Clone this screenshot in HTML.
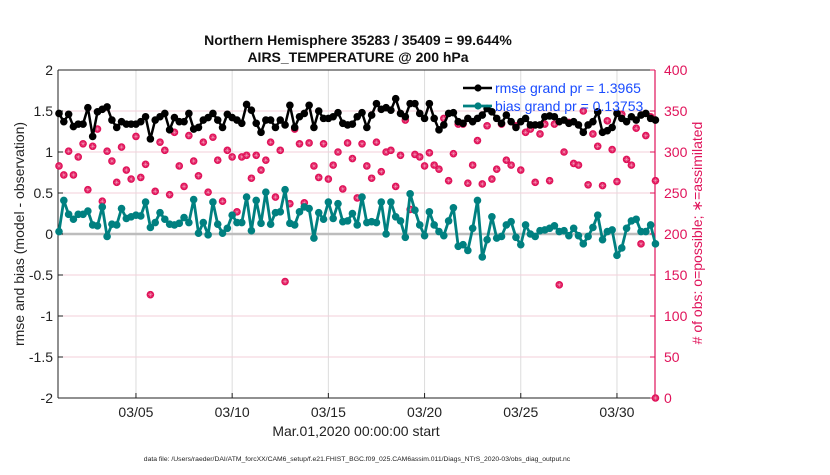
<!DOCTYPE html>
<html><head><meta charset="utf-8"><style>
body{margin:0;background:#fff;width:830px;height:470px;overflow:hidden}
text{font-family:"Liberation Sans",Arial,sans-serif}
</style></head><body>
<svg id="chart" width="830" height="470" xmlns="http://www.w3.org/2000/svg"></svg>
<script>
const biasValues=[0.03,0.41,0.24,0.18,0.24,0.24,0.28,0.11,0.10,0.33,-0.03,0.12,0.11,0.31,0.19,0.21,0.23,0.22,0.39,0.08,0.14,0.26,0.18,0.12,0.11,0.13,0.20,0.14,0.42,0.01,0.14,-0.01,0.39,0.12,0.01,0.07,0.23,0.14,0.14,0.45,0.04,0.41,0.13,
0.51,0.12,0.26,0.27,0.54,0.13,0.11,0.27,0.33,0.31,-0.05,0.26,0.18,0.39,0.19,0.37,0.15,0.16,0.25,0.11,0.45,0.14,0.15,0.14,0.39,0.00,0.39,0.21,0.16,-0.04,0.49,0.29,0.11,-0.02,0.27,0.11,0.03,-0.02,0.16,0.32,-0.15,
-0.13,-0.20,0.07,0.41,-0.28,-0.07,0.21,-0.05,-0.03,0.11,0.15,-0.04,-0.13,0.11,0.00,-0.03,0.04,0.05,0.07,0.10,0.03,0.04,-0.02,0.07,-0.02,-0.12,-0.03,0.08,0.23,-0.07,0.03,0.05,-0.26,-0.17,0.07,0.16,0.18,0.03,0.03,0.11,-0.12];
const rmseValues=[1.47,1.37,1.46,1.31,1.34,1.34,1.54,1.19,1.49,1.52,1.55,1.39,1.30,1.37,1.34,1.34,1.34,1.37,1.43,1.16,1.39,1.43,1.47,1.27,1.42,1.37,1.37,1.47,1.28,1.30,1.39,1.42,1.47,1.39,1.30,1.46,1.42,1.39,1.35,1.58,1.51,1.35,1.24,
1.39,1.39,1.30,1.39,1.33,1.57,1.30,1.43,1.47,1.57,1.30,1.50,1.41,1.41,1.43,1.48,1.35,1.33,1.34,1.43,1.48,1.30,1.45,1.59,1.52,1.54,1.51,1.65,1.47,1.43,1.59,1.59,1.47,1.41,1.59,1.41,1.27,1.33,1.47,1.48,1.37,
1.35,1.41,1.37,1.41,1.45,1.53,1.49,1.41,1.35,1.45,1.37,1.30,1.37,1.41,1.33,1.33,1.33,1.43,1.44,1.43,1.37,1.39,1.35,1.37,1.33,1.24,1.33,1.37,1.49,1.24,1.26,1.30,1.47,1.41,1.37,1.43,1.39,1.45,1.47,1.41,1.39];
const obsValues=[283,272,301,272,294,310,254,307,328,240,301,289,263,306,278,267,319,269,285,126,252,312,302,248,324,283,258,320,289,271,312,251,318,290,240,302,294,227,294,296,268,296,278,
290,312,245,302,142,237,328,310,238,311,283,269,310,267,284,300,255,311,292,244,310,283,268,312,276,300,302,258,296,339,230,297,294,283,299,284,279,341,265,298,334,
334,262,284,314,261,332,267,279,334,290,284,332,278,324,328,263,322,334,265,334,138,300,336,286,284,350,260,322,307,259,338,303,264,346,291,284,329,188,320,343,265];
const extraObsDays=[32];
const extraObsValues=[0];
const dayStart=1, dayStep=0.25;
const xTickDays=[5,10,15,20,25,30];
const xTickLabels=["03/05","03/10","03/15","03/20","03/25","03/30"];
const yLeftTicks=[-2,-1.5,-1,-0.5,0,0.5,1,1.5,2];
const yRightTicks=[0,50,100,150,200,250,300,350,400];

const L=58,R=655,T=70,B=398;
const xS=d=>59+(d-1)*19.24;
const yL=v=>T+(2-v)*(B-T)/4;
const yR=v=>B-v*(B-T)/400;
const svg=document.getElementById('chart');
const NS='http://www.w3.org/2000/svg';
function mk(tag,attrs,parent){const e=document.createElementNS(NS,tag);for(const k in attrs)e.setAttribute(k,attrs[k]);(parent||svg).appendChild(e);return e;}
function txt(s,attrs,parent){const e=mk('text',attrs,parent);e.textContent=s;return e;}
const PINK='#e0135a';

const grid=mk('g',{});


xTickDays.forEach(d=>{const l=mk('line',{x1:xS(d),x2:xS(d),y1:T,y2:B,stroke:'#dcdcdc','stroke-width':1},grid);

});
yLeftTicks.forEach(v=>{if(v===0||v===2||v===-2)return;const l=mk('line',{x1:L,x2:R,y1:yL(v),y2:yL(v),stroke:'#f3cfda','stroke-width':1},grid);

});
const zl=mk('line',{x1:L,x2:R,y1:yL(0),y2:yL(0),stroke:'#bdbdbd','stroke-width':2.5});



const ax=mk('g',{});


mk('line',{x1:L,x2:R,y1:T,y2:T,stroke:'#222','stroke-width':1},ax);
mk('line',{x1:L,x2:R,y1:B,y2:B,stroke:'#222','stroke-width':1},ax);
mk('line',{x1:L,x2:L,y1:T,y2:B,stroke:'#222','stroke-width':1},ax);
mk('line',{x1:R,x2:R,y1:T,y2:B,stroke:PINK,'stroke-width':1.2},ax);
yLeftTicks.forEach(v=>{mk('line',{x1:L,x2:L+5,y1:yL(v),y2:yL(v),stroke:'#222'},ax);
const t=txt(String(v),{x:53,y:yL(v)+5,'text-anchor':'end','font-size':14,fill:'#222'},ax);

});
yRightTicks.forEach(v=>{mk('line',{x1:R-5,x2:R,y1:yR(v),y2:yR(v),stroke:PINK},ax);
const t=txt(String(v),{x:664,y:yR(v)+5,'font-size':14,fill:PINK},ax);

});
xTickDays.forEach((d,i)=>{mk('line',{x1:xS(d),x2:xS(d),y1:B-5,y2:B,stroke:'#222'},ax);
const t=txt(xTickLabels[i],{x:xS(d),y:417,'text-anchor':'middle','font-size':14,fill:'#222'},ax);

});

const og=mk('g',{});


function obsMark(x,y){const g=mk('g',{},og);


mk('circle',{cx:x,cy:y,r:3.8,fill:PINK},g);
const p=`M${x-2.4} ${y}H${x+2.4}M${x} ${y-2.4}V${y+2.4}M${x-1.7} ${y-1.7}L${x+1.7} ${y+1.7}M${x-1.7} ${y+1.7}L${x+1.7} ${y-1.7}`;
mk('path',{d:p,stroke:'#f7b8cc','stroke-width':0.4},g);}
obsValues.forEach((v,i)=>obsMark(xS(dayStart+i*dayStep),yR(v)));
extraObsDays.forEach((d,i)=>obsMark(xS(d),yR(extraObsValues[i])));

function series(vals,color,name,w){const g=mk('g',{});


const pts=vals.map((v,i)=>xS(dayStart+i*dayStep).toFixed(1)+','+yL(v).toFixed(1)).join(' ');
mk('polyline',{points:pts,fill:'none',stroke:color,'stroke-width':w,'stroke-linejoin':'round'},g);
vals.forEach((v,i)=>{const c=mk('circle',{cx:xS(dayStart+i*dayStep),cy:yL(v),r:3.8,fill:color},g);

});}
series(rmseValues,'#000','rmse-series',2.5);
series(biasValues,'#008080','bias-series',2.8);
</script>
<svg width="830" height="470" style="position:absolute;left:0;top:0" xmlns="http://www.w3.org/2000/svg">
<g>
<g><line x1="463" x2="492" y1="88" y2="88" stroke="#000" stroke-width="2.5"/><circle cx="478" cy="88" r="3.6" fill="#000"/>
<text x="495" y="93" font-size="14" fill="#1a4cff" font-family="Liberation Sans, sans-serif">rmse grand pr = 1.3965</text></g>
<g><line x1="463" x2="492" y1="106" y2="106" stroke="#008080" stroke-width="2.8"/><circle cx="478" cy="106" r="3.6" fill="#008080"/>
<text x="495" y="111" font-size="14" fill="#1a4cff" font-family="Liberation Sans, sans-serif">bias grand pr = 0.13753</text></g>
</g>
<text x="358" y="45" text-anchor="middle" font-size="14" font-weight="bold" fill="#111" font-family="Liberation Sans, sans-serif">Northern Hemisphere 35283 / 35409 = 99.644%</text>
<text x="358" y="62" text-anchor="middle" font-size="14" font-weight="bold" fill="#111" font-family="Liberation Sans, sans-serif">AIRS_TEMPERATURE @ 200 hPa</text>
<text transform="translate(24,234) rotate(-90)" text-anchor="middle" font-size="14" fill="#222" font-family="Liberation Sans, sans-serif">rmse and bias (model - observation)</text>
<text transform="translate(702,233) rotate(-90)" text-anchor="middle" font-size="14" fill="#e0135a" font-family="Liberation Sans, sans-serif"># of obs: o=possible; ∗=assimilated</text>
<text x="356" y="436" text-anchor="middle" font-size="14" fill="#222" font-family="Liberation Sans, sans-serif">Mar.01,2020 00:00:00 start</text>
<text x="357" y="461" text-anchor="middle" font-size="6.8" fill="#222" font-family="Liberation Sans, sans-serif">data file: /Users/raeder/DAI/ATM_forcXX/CAM6_setup/f.e21.FHIST_BGC.f09_025.CAM6assim.011/Diags_NTrS_2020-03/obs_diag_output.nc</text>
</svg>
</body></html>
